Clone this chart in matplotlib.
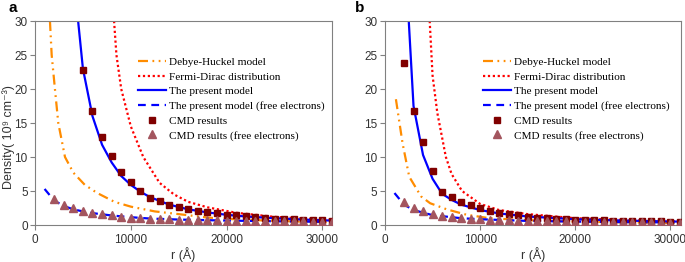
import numpy as np
import matplotlib.pyplot as plt

# ---- panel a ----
a_cmd_r = [5000, 6000, 7000, 8000, 9000, 10000, 11000, 12000, 13000, 14000, 15000,
           16000, 17000, 18000, 19000, 20000, 21000, 22000, 23000, 24000, 25000,
           26000, 27000, 28000, 29000, 30000, 31000]
a_cmd = [22.8, 16.8, 12.9, 10.1, 7.8, 6.3, 5.0, 4.0, 3.5, 3.0, 2.6,
         2.3, 2.1, 1.85, 1.7, 1.5, 1.4, 1.3, 1.15, 1.05, 0.95,
         0.9, 0.85, 0.8, 0.75, 0.7, 0.65]
a_free_r = [2000, 3000, 4000, 5000, 6000, 7000, 8000, 9000, 10000, 11000, 12000,
            13000, 14000, 15000, 16000, 17000, 18000, 19000, 20000, 21000, 22000,
            23000, 24000, 25000, 26000, 27000, 28000, 29000, 30000, 31000]
a_free = [3.8, 3.0, 2.5, 2.1, 1.8, 1.6, 1.4, 1.25, 1.1, 1.0, 0.95,
          0.9, 0.85, 0.8, 0.75, 0.72, 0.7, 0.67, 0.65, 0.62, 0.6,
          0.58, 0.56, 0.55, 0.54, 0.53, 0.52, 0.51, 0.5, 0.5]
a_model_r = [4500, 5000, 6000, 7000, 8000, 9000, 10000, 11000, 12000, 14000, 16000,
             18000, 20000, 22000, 25000, 28000, 31000]
a_model = [30, 23, 16, 11.8, 9.2, 7.2, 5.9, 4.9, 4.1, 3.0, 2.3,
           1.85, 1.5, 1.25, 1.0, 0.8, 0.65]
a_mfree_r = [1000, 2000, 3000, 4000, 5000, 6000, 8000, 10000, 12000, 15000, 20000, 25000, 31000]
a_mfree = [5.3, 3.6, 2.8, 2.3, 2.0, 1.75, 1.4, 1.15, 0.95, 0.8, 0.65, 0.55, 0.45]
a_dh_r = [1560, 1740, 2080, 2430, 3130, 4000, 5200, 6500, 8300, 10000, 12500, 15000,
          18000, 20000, 25000, 31000]
a_dh = [30, 25, 20, 15, 10, 7.7, 5.9, 4.7, 3.4, 2.7, 2.0, 1.6,
        1.1, 0.9, 0.6, 0.4]
a_fd_r = [8250, 8500, 9000, 10000, 11300, 13000, 14500, 16000, 18000, 21000, 25000, 28000, 31000]
a_fd = [30, 25, 20, 14.5, 10, 6.2, 4.5, 3.4, 2.6, 1.8, 1.2, 0.95, 0.8]

# ---- panel b ----
b_cmd_r = [2000, 3000, 4000, 5000, 6000, 7000, 8000, 9000, 10000, 11000, 12000,
           13000, 14000, 15000, 16000, 17000, 18000, 19000, 20000, 21000, 22000,
           23000, 24000, 25000, 26000, 27000, 28000, 29000, 30000, 31000]
b_cmd = [23.8, 16.7, 12.2, 8.0, 4.9, 4.1, 3.4, 2.9, 2.5, 2.1, 1.8,
         1.6, 1.4, 1.25, 1.1, 1.0, 0.95, 0.9, 0.8, 0.75, 0.72,
         0.68, 0.65, 0.62, 0.6, 0.57, 0.55, 0.53, 0.5, 0.5]
b_free_r = [2000, 3000, 4000, 5000, 6000, 7000, 8000, 9000, 10000, 11000, 12000,
            13000, 14000, 15000, 16000, 17000, 18000, 19000, 20000, 21000, 22000,
            23000, 24000, 25000, 26000, 27000, 28000, 29000, 30000, 31000]
b_free = [3.4, 2.5, 2.0, 1.6, 1.35, 1.2, 1.05, 0.95, 0.85, 0.8, 0.75,
          0.7, 0.65, 0.62, 0.6, 0.57, 0.55, 0.52, 0.5, 0.48, 0.46,
          0.45, 0.43, 0.42, 0.4, 0.4, 0.38, 0.37, 0.36, 0.35]
b_model_r = [2500, 3000, 4000, 5000, 6000, 7000, 8000, 10000, 12000, 15000, 20000, 25000, 31000]
b_model = [30, 17.5, 10.3, 6.8, 4.6, 3.7, 3.0, 2.2, 1.7, 1.25, 0.85, 0.65, 0.5]
b_mfree_r = [1000, 2000, 3000, 5000, 8000, 10000, 15000, 20000, 25000, 31000]
b_mfree = [4.7, 3.0, 2.2, 1.45, 1.0, 0.85, 0.6, 0.5, 0.42, 0.38]
b_dh_r = [1150, 1850, 2550, 3800, 4750, 6500, 8600, 11000, 15000, 20000, 25000, 31000]
b_dh = [18.5, 12.0, 7.1, 4.2, 3.2, 2.3, 1.5, 1.0, 0.7, 0.5, 0.4, 0.3]
b_fd_r = [4700, 5000, 5500, 6400, 7000, 8100, 10000, 12000, 15000, 20000, 25000, 31000]
b_fd = [30, 22, 16.5, 10, 7.5, 5.0, 3.1, 2.2, 1.6, 1.0, 0.75, 0.55]

labels = ['Debye-Huckel model', 'Fermi-Dirac distribution', 'The present model',
          'The present model (free electrons)', 'CMD results', 'CMD results (free electrons)']

plt.rcParams['font.family'] = ['Liberation Sans', 'DejaVu Sans']

fig = plt.figure(figsize=(6.85, 2.62), dpi=100)
ax_a = fig.add_axes([0.0511, 0.1412, 0.4336, 0.7786])
ax_b = fig.add_axes([0.562, 0.1412, 0.432, 0.7786])


def draw(ax, dh, fd, model, mfree, cmd, free, xmax, leg_x):
    ax.plot(dh[0], dh[1], color='#ff8c00', lw=1.6, ls=(0, (4.5, 2, 0.8, 2, 0.8, 2)), label=labels[0])
    ax.plot(fd[0], fd[1], color='#ff0000', lw=1.6, ls=(0, (1, 1.2)), label=labels[1])
    ax.plot(model[0], model[1], color='#0000ff', lw=1.6, label=labels[2])
    ax.plot(mfree[0], mfree[1], color='#0000ff', lw=1.6, ls=(0, (3.5, 2.5)), label=labels[3])
    ax.plot(cmd[0], cmd[1], 's', color='#800000', ms=4.8, ls='none', label=labels[4], zorder=3)
    ax.plot(free[0], free[1], '^', color='#a3555e', ms=5.5, ls='none', label=labels[5], zorder=3)
    ax.set_xlim(0, xmax)
    ax.set_ylim(0, 30)
    ax.set_xticks([0, 10000, 20000, 30000])
    ax.set_yticks([0, 5, 10, 15, 20, 25, 30])
    for s in ax.spines.values():
        s.set_color('#808080')
    ax.tick_params(colors='#808080', labelcolor='#333333', labelsize=8.5, length=3.8, width=0.8)
    ax.tick_params(axis='y', pad=1.5)
    ax.tick_params(axis='x', pad=2.5)
    ax.set_xlabel('r (Å)', fontsize=9, color='#333333', labelpad=1)
    ax.legend(loc='upper left', bbox_to_anchor=(leg_x, 0.845), frameon=False,
              prop={'family': 'Liberation Serif', 'size': 8.1},
              handlelength=2.5, handletextpad=0.27, labelspacing=0.42, borderaxespad=0)


draw(ax_a, (a_dh_r, a_dh), (a_fd_r, a_fd), (a_model_r, a_model), (a_mfree_r, a_mfree),
     (a_cmd_r, a_cmd), (a_free_r, a_free), 31000, 0.33)
draw(ax_b, (b_dh_r, b_dh), (b_fd_r, b_fd), (b_model_r, b_model), (b_mfree_r, b_mfree),
     (b_cmd_r, b_cmd), (b_free_r, b_free), 31100, 0.315)

ax_a.set_ylabel('Density( 10⁹ cm⁻³)', fontsize=9, color='#333333')
ax_a.yaxis.set_label_coords(-0.067, 0.43)

fig.text(0.012, 0.955, 'a', fontsize=11, fontweight='bold')
fig.text(0.518, 0.955, 'b', fontsize=11, fontweight='bold')

fig.savefig('out.png', dpi=100)
